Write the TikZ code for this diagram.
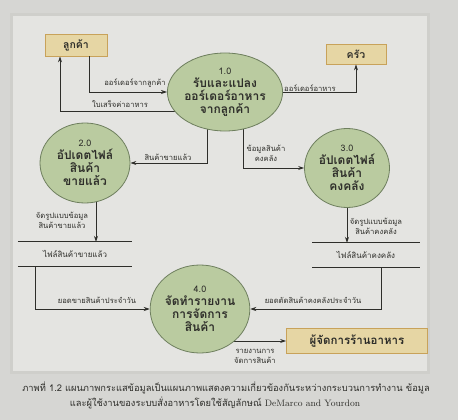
\documentclass[tikz,border=0pt]{standalone}
\usepackage{fontspec}
\usetikzlibrary{shapes.geometric,backgrounds,arrows.meta}
\newfontfamily\thai[Script=Thai]{Loma}
\definecolor{bgc}{HTML}{D6D6D3}
\definecolor{pagec}{HTML}{E4E4E1}
\definecolor{framec}{HTML}{CFCFCB}
\definecolor{procfill}{HTML}{BACBA0}
\definecolor{procdraw}{HTML}{6E7F5E}
\definecolor{entfill}{HTML}{E6D6A4}
\definecolor{entdraw}{HTML}{C8A25A}
\definecolor{inkc}{HTML}{2E2E2A}
\tikzset{
  proc/.style={ellipse,fill=procfill,draw=procdraw,line width=0.8pt,inner sep=0pt,align=center,text=inkc,font=\thai\fontsize{12}{13}\selectfont\bfseries},
  ent/.style={rectangle,fill=entfill,draw=entdraw,line width=0.8pt,inner sep=0pt,text=inkc,font=\thai\fontsize{10.5}{12}\selectfont\bfseries},
  store/.style={inner sep=0pt,minimum height=24pt,text=inkc,font=\thai\fontsize{8}{9}\selectfont},
  flow/.style={draw=inkc,line width=0.8pt,-{Stealth[length=6pt,width=4pt]}},
  plainline/.style={draw=inkc,line width=0.8pt},
  lab/.style={inner sep=0pt,align=center,text=inkc,font=\thai\fontsize{7.6}{10}\selectfont},
  capt/.style={inner sep=0pt,text=inkc,font=\thai\fontsize{9.3}{11}\selectfont}
}
\begin{document}
\begin{tikzpicture}[x=1pt,y=-1pt]
\useasboundingbox (0,0) rectangle (458,420);
\begin{scope}[on background layer]
\fill[bgc] (0,0) rectangle (458,420);
\fill[pagec,draw=framec,line width=3pt] (11,15) rectangle (428,372);
\end{scope}

% entities
\node[ent,minimum width=62pt,minimum height=22pt] (cust) at (76,45) {ลูกค้า};
\node[ent,minimum width=60pt,minimum height=20pt] (kitchen) at (356,54) {ครัว};
\node[ent,minimum width=141pt,minimum height=25pt,font=\thai\fontsize{11.5}{13}\selectfont\bfseries] (mgr) at (357,341) {ผู้จัดการร้านอาหาร};

% processes
\node[proc,minimum width=86pt,minimum height=78pt] (c1) at (225,92) {{\thai\fontsize{9}{11}\selectfont\mdseries 1.0}\\รับและแปลง\\ออร์เดอร์อาหาร\\จากลูกค้า};
\node[proc,minimum width=90pt,minimum height=80pt] (c2) at (85,163) {{\thai\fontsize{9}{11}\selectfont\mdseries 2.0}\\อัปเดตไฟล์\\สินค้า\\ขายแล้ว};
\node[proc,minimum width=85pt,minimum height=79pt] (c3) at (347,168) {{\thai\fontsize{9}{11}\selectfont\mdseries 3.0}\\อัปเดตไฟล์\\สินค้า\\คงคลัง};
\node[proc,minimum width=90pt,minimum height=88pt] (c4) at (200,309) {{\thai\fontsize{9}{11}\selectfont\mdseries 4.0}\\จัดทำรายงาน\\การจัดการ\\สินค้า};

% data stores
\node[store,minimum width=114pt] (s1) at (75,254) {ไฟล์สินค้าขายแล้ว};
\node[store,minimum width=107pt] (s2) at (366,255) {ไฟล์สินค้าคงคลัง};
\draw[plainline] (s1.north west) -- (s1.north east);
\draw[plainline] (s1.south west) -- (s1.south east);
\draw[plainline] (s2.north west) -- (s2.north east);
\draw[plainline] (s2.south west) -- (s2.south east);

% flows from entity / stores
\draw[flow] ([xshift=13pt]cust.south) |- (c1.west);
\draw[flow] (c1.east) -| (kitchen.south);
\draw[flow] ([xshift=-40pt]s1.south) |- (c4.west);
\draw[flow] ([xshift=15pt]s2.south) |- (c4.east);
\draw[flow] (c3.south) -- (c3.south |- s2.north);

\begin{scope}[on background layer]
\draw[flow] ([yshift=-19pt]c1.center) -| ([xshift=-16pt]cust.south);
\draw[flow] ([xshift=-18pt]c1.center) |- (c2.east);
\draw[flow] ([xshift=18pt]c1.center) |- (c3.west);
\draw[flow] ([xshift=11pt]c2.center) -- ([xshift=21pt]s1.north);
\draw[flow] ([yshift=-32pt]c4.center) -- (mgr.west);
\end{scope}

% labels
\node[lab] (l1) at (135,83) {ออร์เดอร์จากลูกค้า};
\node[lab] (l2) at (120,104) {ใบเสร็จค่าอาหาร};
\node[lab] (l3) at (310,88) {ออร์เดอร์อาหาร};
\node[lab] (l4) at (168,157) {สินค้าขายแล้ว};
\node[lab] (l5) at (266,153) {ข้อมูลสินค้า\\คงคลัง};
\node[lab] (l6) at (62,220) {จัดรูปแบบข้อมูล\\สินค้าขายแล้ว};
\node[lab] (l7) at (376,226) {จัดรูปแบบข้อมูล\\สินค้าคงคลัง};
\node[lab] (l8) at (97,300) {ยอดขายสินค้าประจำวัน};
\node[lab] (l9) at (313,300) {ยอดตัดสินค้าคงคลังประจำวัน};
\node[lab] (l10) at (255,356) {รายงานการ\\จัดการสินค้า};

% caption
\node[capt] (cap1) at (226,388) {ภาพที่ 1.2 แผนภาพกระแสข้อมูลเป็นแผนภาพแสดงความเกี่ยวข้องกันระหว่างกระบวนการทำงาน ข้อมูล};
\node[capt] (cap2) at (215,403) {และผู้ใช้งานของระบบสั่งอาหารโดยใช้สัญลักษณ์ {\rmfamily DeMarco and Yourdon}};
\end{tikzpicture}
\end{document}
